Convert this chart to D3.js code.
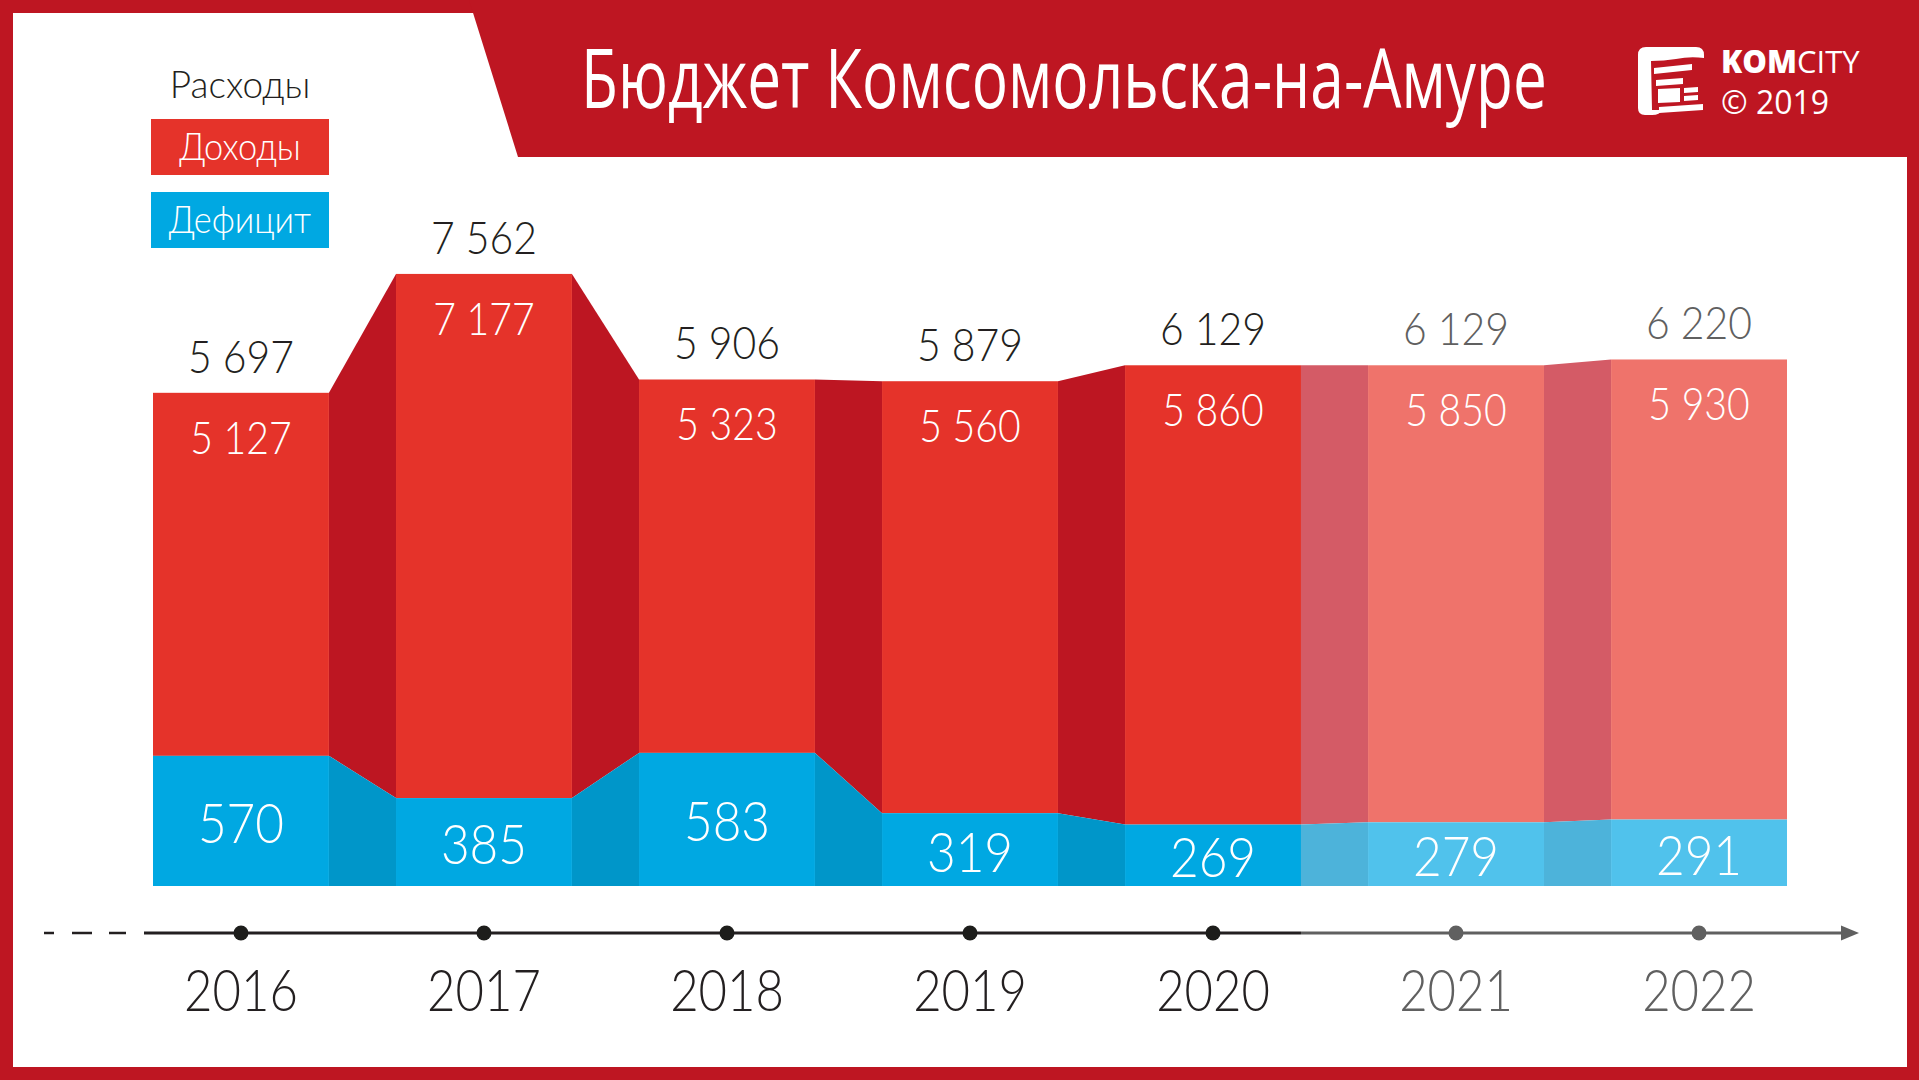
<!DOCTYPE html>
<html><head><meta charset="utf-8">
<script src="https://cdn.jsdelivr.net/npm/d3@7"></script>
<style>
html,body{margin:0;padding:0;background:#fff;}
svg{display:block;}
</style></head><body>
<svg id="chart" width="1919" height="1080"></svg>
<script>
// ---- data ----
const years = ["2016","2017","2018","2019","2020","2021","2022"];
const expenses = [5697, 7562, 5906, 5879, 6129, 6129, 6220];   // Расходы
const income   = [5127, 7177, 5323, 5560, 5860, 5850, 5930];   // Доходы
const deficit  = [570, 385, 583, 319, 269, 279, 291];          // Дефицит
const forecastYears = ["2021", "2022"];
const legendLabels = ["Расходы", "Доходы", "Дефицит"];
const titleText = "Бюджет Комсомольска-на-Амуре";
const brandBold = "KOM", brandRegular = "CITY", brandYear = "© 2019";

// ---- setup ----
const W = 1919, H = 1080;
const FONT = "Lato,'Open Sans',sans-serif";
const C = {
  frame: "#be1622", red: "#e5332a", redF: "#ef736b", redLink: "#bd1622", redLinkF: "#d45b66",
  blue: "#00a8e2", blueF: "#50c2ec", blueLink: "#0096c9", blueLinkF: "#4db3da",
  ink: "#231f20", inkF: "#606060"
};
const isF = y => forecastYears.includes(y);
const fmt = d3.formatLocale({decimal: ",", thousands: " ", grouping: [3], currency: ["", ""]}).format(",");
// narrow the light face a little, like the condensed original lettering
const condense = (sel, k) => sel.each(function () {
  const w = this.getComputedTextLength();
  d3.select(this).attr("textLength", w * k).attr("lengthAdjust", "spacingAndGlyphs");
});

const svg = d3.select("#chart");

// frame + banner
svg.append("rect").attr("width", W).attr("height", H).attr("fill", C.frame);
svg.append("rect").attr("x", 13).attr("y", 13).attr("width", 1894).attr("height", 1054).attr("fill", "#fff");
svg.append("path").attr("d", "M469,0 L1919,0 L1919,157 L518,157 Z").attr("fill", C.frame);

// title
svg.append("text").attr("x", 1064).attr("y", 108).attr("text-anchor", "middle")
  .attr("font-family", "'Liberation Sans Narrow','Open Sans',sans-serif")
  .attr("font-size", 82).attr("fill", "#fff")
  .attr("textLength", 966).attr("lengthAdjust", "spacingAndGlyphs")
  .text(titleText);

// logo icon
const logo = svg.append("g").attr("fill", "#fff");
logo.append("path").attr("d", "M1646,47 L1696,47 Q1704,47 1704,55 L1704,58 Q1690,56 1676,59 Q1664,61 1651,61 L1652,110 L1662,110 Q1660,115 1652,115 L1645,115 Q1638,115 1638,108 L1638,55 Q1638,47 1646,47 Z");
logo.append("path").attr("d", "M1654,68 L1692,64 L1692,70 L1654,74 Z");
logo.append("path").attr("d", "M1656,80 L1683,78 L1683,84 L1656,86 Z");
logo.append("path").attr("d", "M1658,89 L1680,88 L1680,102 L1658,103 Z");
logo.append("path").attr("d", "M1684,88 L1698,87 L1698,92 L1684,93 Z");
logo.append("path").attr("d", "M1684,96 L1698,95 L1698,100 L1684,101 Z");
logo.append("path").attr("d", "M1659,107 L1703,104 L1703,110 L1659,113 Z");
const brand = svg.append("text").attr("x", 1721).attr("y", 73).attr("font-family", "'Open Sans',sans-serif")
  .attr("font-size", 31).attr("fill", "#fff");
brand.append("tspan").attr("font-weight", 800).text(brandBold);
brand.append("tspan").attr("font-weight", 400).text(brandRegular);
svg.append("text").attr("x", 1721).attr("y", 114).attr("font-family", "'Open Sans',sans-serif")
  .attr("font-size", 32).attr("fill", "#fff").text(brandYear);

// legend
svg.append("text").attr("x", 240).attr("y", 98).attr("text-anchor", "middle")
  .attr("font-family", FONT).attr("font-weight", 300).attr("font-size", 37).attr("fill", C.ink)
  .text(legendLabels[0]);
[[legendLabels[1], C.red, 119], [legendLabels[2], C.blue, 192]].forEach(([t, c, y]) => {
  svg.append("rect").attr("x", 151).attr("y", y).attr("width", 178).attr("height", 56).attr("fill", c);
  svg.append("text").attr("x", 240).attr("y", y + 41).attr("text-anchor", "middle")
    .attr("font-family", FONT).attr("font-weight", 300).attr("font-size", 37).attr("fill", "#fff")
    .text(t).call(condense, 0.93);
});

// scales
const x = d3.scaleBand().domain(years).range([153, 1787]).paddingInner(0.276).paddingOuter(0);
const bw = x.bandwidth();
const yTop = d3.scaleLinear().domain([0, 8000]).range([756, 246]);   // top of column = expenses
const yDef = d3.scaleLinear().domain([0, 600]).range([886, 749]);    // deficit part from the base
const base = yDef(0);

const rows = years.map((y, i) => ({year: y, exp: expenses[i], inc: income[i], def: deficit[i], f: isF(y)}));

// connectors between columns
const links = d3.range(rows.length - 1).map(i => ({a: rows[i], b: rows[i + 1]}));
const gLinks = svg.append("g");
links.forEach(({a, b}) => {
  const x0 = x(a.year) + bw, x1 = x(b.year);
  gLinks.append("path")
    .attr("d", `M${x0},${yTop(a.exp)} L${x1},${yTop(b.exp)} L${x1},${yDef(b.def)} L${x0},${yDef(a.def)} Z`)
    .attr("fill", b.f ? C.redLinkF : C.redLink);
  gLinks.append("path")
    .attr("d", `M${x0},${yDef(a.def)} L${x1},${yDef(b.def)} L${x1},${base} L${x0},${base} Z`)
    .attr("fill", b.f ? C.blueLinkF : C.blueLink);
});

// columns
const gBars = svg.append("g");
gBars.selectAll("rect.inc").data(rows).join("rect").attr("class", "inc")
  .attr("x", d => x(d.year)).attr("width", bw)
  .attr("y", d => yTop(d.exp)).attr("height", d => yDef(d.def) - yTop(d.exp))
  .attr("fill", d => d.f ? C.redF : C.red);
gBars.selectAll("rect.def").data(rows).join("rect").attr("class", "def")
  .attr("x", d => x(d.year)).attr("width", bw)
  .attr("y", d => yDef(d.def)).attr("height", d => base - yDef(d.def))
  .attr("fill", d => d.f ? C.blueF : C.blue);

// value labels
const cx = d => x(d.year) + bw / 2;
const gLab = svg.append("g").attr("font-family", FONT).attr("font-weight", 300).attr("text-anchor", "middle");
gLab.selectAll("text.exp").data(rows).join("text").attr("class", "exp")
  .attr("x", cx).attr("y", d => yTop(d.exp) - 20).attr("font-size", 46)
  .attr("fill", d => d.f ? C.inkF : C.ink).text(d => fmt(d.exp)).call(condense, 0.89);
gLab.selectAll("text.inc").data(rows).join("text").attr("class", "inc")
  .attr("x", cx).attr("y", d => yTop(d.exp) + 61).attr("font-size", 45)
  .attr("fill", "#fff").text(d => fmt(d.inc)).call(condense, 0.87);
gLab.selectAll("text.def").data(rows).join("text").attr("class", "def")
  .attr("x", cx).attr("y", d => (yDef(d.def) + base) / 2 + 22).attr("font-size", 55)
  .attr("fill", "#fff").text(d => fmt(d.def)).call(condense, 0.9);

// time axis
const axisY = 933;
const lastActual = rows.filter(d => !d.f).slice(-1)[0].year;
const splitX = x(lastActual) + bw;
const gA = svg.append("g");
gA.append("line").attr("x1", 44).attr("x2", 127).attr("y1", axisY).attr("y2", axisY)
  .attr("stroke", C.ink).attr("stroke-width", 2.5).attr("stroke-dasharray", "10 18 20 17 17");
gA.append("line").attr("x1", 144).attr("x2", splitX).attr("y1", axisY).attr("y2", axisY)
  .attr("stroke", C.ink).attr("stroke-width", 3);
gA.append("line").attr("x1", splitX).attr("x2", 1845).attr("y1", axisY).attr("y2", axisY)
  .attr("stroke", C.inkF).attr("stroke-width", 3);
gA.append("path").attr("d", `M1841,${axisY - 7.5} L1859,${axisY} L1841,${axisY + 7.5} Z`).attr("fill", C.inkF);
gA.selectAll("circle").data(rows).join("circle")
  .attr("cx", cx).attr("cy", axisY).attr("r", 7.5).attr("fill", d => d.f ? C.inkF : "#1d1d1b");

const gX = svg.append("g").attr("transform", `translate(0,${axisY})`)
  .call(d3.axisBottom(x).tickSize(0).tickPadding(38));
gX.select(".domain").remove();
gX.selectAll(".tick text").attr("font-family", FONT).attr("font-weight", 300).attr("font-size", 57)
  .attr("fill", d => isF(d) ? C.inkF : C.ink).call(condense, 0.86);
</script>
</body></html>
